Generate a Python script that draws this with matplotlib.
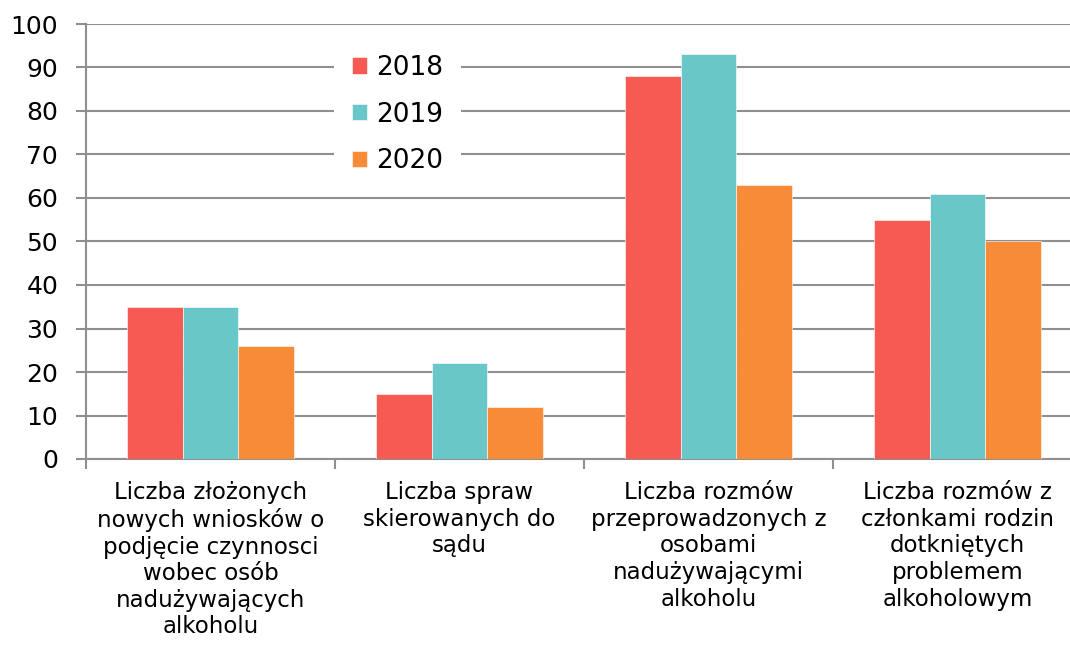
import matplotlib
matplotlib.use("Agg")
import matplotlib.pyplot as plt
import numpy as np

categories = [
    "Liczba złożonych\nnowych wniosków o\npodjęcie czynnosci\nwobec osób\nnadużywających\nalkoholu",
    "Liczba spraw\nskierowanych do\nsądu",
    "Liczba rozmów\nprzeprowadzonych z\nosobami\nnadużywającymi\nalkoholu",
    "Liczba rozmów z\nczłonkami rodzin\ndotkniętych\nproblemem\nalkoholowym",
]
years = ["2018", "2019", "2020"]
v2018 = [35, 15, 88, 55]
v2019 = [35, 22, 93, 61]
v2020 = [26, 12, 63, 50]
colors = ["#F75A53", "#69C7C8", "#F78B38"]

fig = plt.figure(figsize=(10.7, 6.46), dpi=100)
ax = fig.add_axes([86 / 1070, (646 - 459) / 646, 996 / 1070, 435 / 646])

x = np.arange(len(categories))
w = 0.667 / 3
for i, (vals, lab) in enumerate(zip([v2018, v2019, v2020], years)):
    ax.bar(x + (i - 1) * w, vals, w, color=colors[i], label=lab,
           edgecolor="white", linewidth=0.4, zorder=3)

ax.set_xlim(-0.5, 3.5)
ax.set_ylim(0, 100)
ax.set_yticks(range(0, 101, 10))
ax.yaxis.grid(True, color="#8f8f8f", linewidth=1.5, zorder=0)
ax.set_axisbelow(True)

ax.set_xticks(x)
ax.set_xticklabels(categories, fontsize=16.5, linespacing=1.2)
ax.set_xticks(np.arange(-0.5, 4, 1), minor=True)
ax.tick_params(axis="x", which="major", length=0, pad=16)
ax.tick_params(axis="x", which="minor", length=7, width=1.5, color="#8f8f8f", direction="out")
ax.tick_params(axis="y", length=7, width=1.5, color="#8f8f8f", pad=13, labelsize=18)

for s in ["top", "right"]:
    ax.spines[s].set_visible(False)
for s in ["left", "bottom"]:
    ax.spines[s].set_color("#8f8f8f")
    ax.spines[s].set_linewidth(1.5)

leg = ax.legend(loc="upper left", bbox_to_anchor=(0.249, 0.970), fontsize=19,
                frameon=True, framealpha=1, facecolor="white", edgecolor="none",
                fancybox=False, handlelength=0.58, handleheight=0.58,
                handletextpad=0.32, labelspacing=0.78, borderpad=0.68,
                borderaxespad=0)
leg.set_zorder(5)

fig.savefig("out.png", dpi=100)
